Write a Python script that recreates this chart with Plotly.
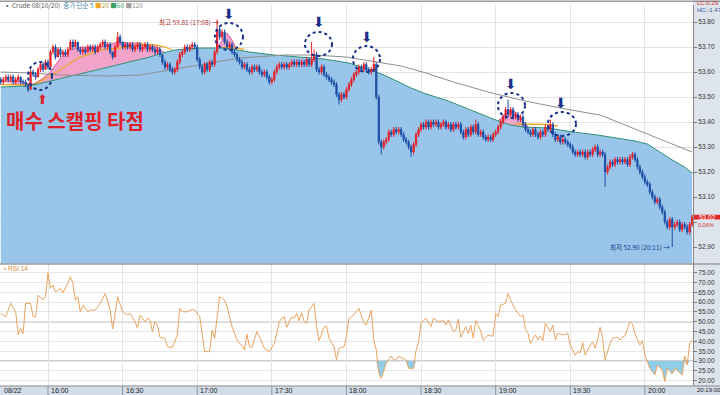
import pandas as pd
import plotly.graph_objects as go

# ---------------- price data (1-minute bars, 15:41 .. 20:19) ----------------
opens = [53.57,53.56,53.57,53.58,53.57,53.58,53.56,53.57,53.58,53.56,
         53.56,53.55,53.53,53.60,53.59,53.58,53.61,53.63,53.61,53.64,
         53.62,53.68,53.70,53.66,53.69,53.67,53.68,53.67,53.69,53.72,
         53.70,53.72,53.69,53.68,53.69,53.68,53.70,53.69,53.70,53.68,
         53.70,53.71,53.72,53.70,53.71,53.68,53.66,53.70,53.74,53.72,
         53.70,53.71,53.70,53.71,53.69,53.70,53.71,53.69,53.70,53.71,
         53.69,53.70,53.69,53.68,53.69,53.67,53.64,53.62,53.63,53.61,
         53.60,53.61,53.64,53.67,53.68,53.70,53.69,53.70,53.71,53.70,
         53.65,53.62,53.60,53.63,53.61,53.64,53.63,53.68,53.77,53.74,
         53.76,53.72,53.70,53.71,53.68,53.67,53.65,53.64,53.62,53.63,
         53.61,53.60,53.62,53.61,53.62,53.60,53.59,53.60,53.58,53.56,
         53.57,53.60,53.62,53.63,53.62,53.63,53.62,53.63,53.64,53.63,
         53.64,53.63,53.64,53.63,53.65,53.63,53.65,53.67,53.61,53.60,
         53.62,53.59,53.58,53.57,53.56,53.55,53.51,53.49,53.51,53.50,
         53.53,53.55,53.57,53.59,53.60,53.62,53.61,53.63,53.61,53.60,
         53.61,53.63,53.50,53.32,53.30,53.32,53.33,53.36,53.35,53.37,
         53.36,53.37,53.35,53.33,53.32,53.30,53.28,53.31,53.35,53.37,
         53.39,53.38,53.40,53.38,53.40,53.39,53.40,53.38,53.39,53.40,
         53.38,53.39,53.37,53.39,53.38,53.39,53.36,53.34,53.37,53.35,
         53.38,53.36,53.39,53.35,53.36,53.34,53.33,53.34,53.33,53.35,
         53.36,53.38,53.40,53.42,53.45,53.43,53.45,53.42,53.43,53.41,
         53.42,53.39,53.37,53.36,53.35,53.37,53.35,53.34,53.36,53.35,
         53.38,53.37,53.39,53.35,53.33,53.34,53.32,53.33,53.32,53.31,
         53.30,53.28,53.27,53.28,53.27,53.28,53.26,53.28,53.27,53.29,
         53.30,53.27,53.28,53.27,53.20,53.22,53.24,53.23,53.25,53.24,
         53.25,53.24,53.25,53.23,53.26,53.27,53.25,53.22,53.20,53.18,
         53.16,53.15,53.12,53.10,53.08,53.09,53.06,53.04,53.00,52.98,
         53.01,52.98,52.99,53.00,52.97,52.99,52.98,52.96,52.99]
highs = [53.58,53.58,53.59,53.59,53.59,53.59,53.58,53.59,53.58,53.57,
         53.57,53.55,53.61,53.61,53.60,53.62,53.64,53.64,53.65,53.65,
         53.69,53.71,53.71,53.70,53.70,53.69,53.69,53.70,53.73,53.73,
         53.73,53.72,53.70,53.70,53.70,53.71,53.71,53.71,53.71,53.71,
         53.72,53.73,53.73,53.72,53.72,53.68,53.71,53.76,53.75,53.72,
         53.72,53.72,53.72,53.72,53.71,53.72,53.72,53.71,53.72,53.72,
         53.71,53.71,53.70,53.70,53.70,53.67,53.65,53.64,53.64,53.62,
         53.62,53.65,53.68,53.69,53.71,53.71,53.71,53.72,53.72,53.71,
         53.66,53.63,53.64,53.64,53.65,53.65,53.69,53.81,53.78,53.77,
         53.77,53.73,53.72,53.72,53.69,53.68,53.66,53.65,53.64,53.64,
         53.62,53.63,53.63,53.63,53.63,53.61,53.61,53.61,53.59,53.58,
         53.61,53.63,53.64,53.64,53.64,53.64,53.64,53.65,53.65,53.65,
         53.65,53.65,53.65,53.66,53.66,53.72,53.69,53.68,53.62,53.63,
         53.63,53.60,53.59,53.58,53.57,53.56,53.52,53.52,53.52,53.54,
         53.56,53.58,53.60,53.61,53.63,53.63,53.64,53.64,53.62,53.62,
         53.66,53.64,53.51,53.33,53.33,53.34,53.37,53.37,53.38,53.38,
         53.38,53.38,53.36,53.34,53.33,53.31,53.32,53.36,53.38,53.40,
         53.40,53.41,53.41,53.41,53.41,53.41,53.41,53.40,53.41,53.41,
         53.40,53.40,53.40,53.40,53.40,53.40,53.37,53.38,53.38,53.39,
         53.39,53.41,53.40,53.37,53.37,53.35,53.35,53.35,53.36,53.37,
         53.39,53.41,53.43,53.46,53.49,53.46,53.46,53.44,53.44,53.43,
         53.43,53.40,53.38,53.37,53.38,53.38,53.36,53.37,53.37,53.39,
         53.39,53.41,53.40,53.36,53.35,53.35,53.34,53.34,53.33,53.32,
         53.31,53.29,53.29,53.29,53.29,53.29,53.29,53.29,53.30,53.31,
         53.31,53.29,53.29,53.28,53.23,53.25,53.25,53.26,53.26,53.26,
         53.26,53.26,53.26,53.27,53.28,53.28,53.26,53.23,53.21,53.19,
         53.17,53.16,53.13,53.11,53.10,53.10,53.07,53.05,53.01,53.02,
         53.02,53.00,53.01,53.01,53.00,53.00,52.99,53.00,53.03]
lows = [53.55,53.55,53.56,53.56,53.56,53.55,53.55,53.56,53.55,53.55,
        53.54,53.52,53.53,53.58,53.57,53.58,53.60,53.60,53.61,53.61,
        53.62,53.67,53.65,53.66,53.66,53.66,53.66,53.66,53.69,53.69,
        53.70,53.68,53.67,53.67,53.67,53.68,53.68,53.68,53.67,53.68,
        53.69,53.70,53.69,53.69,53.67,53.65,53.66,53.70,53.71,53.69,
        53.69,53.69,53.69,53.68,53.68,53.69,53.68,53.68,53.69,53.68,
        53.68,53.68,53.67,53.67,53.66,53.63,53.61,53.61,53.60,53.59,
        53.59,53.60,53.63,53.66,53.67,53.68,53.68,53.69,53.69,53.64,
        53.61,53.59,53.59,53.60,53.60,53.62,53.62,53.67,53.73,53.73,
        53.71,53.69,53.69,53.67,53.66,53.64,53.63,53.61,53.61,53.60,
        53.59,53.59,53.60,53.60,53.59,53.58,53.58,53.57,53.55,53.55,
        53.56,53.59,53.61,53.61,53.61,53.61,53.61,53.62,53.62,53.62,
        53.62,53.62,53.62,53.62,53.62,53.62,53.64,53.60,53.59,53.59,
        53.58,53.57,53.56,53.55,53.54,53.50,53.47,53.48,53.49,53.49,
        53.52,53.54,53.56,53.58,53.59,53.60,53.60,53.60,53.59,53.59,
        53.60,53.49,53.31,53.27,53.29,53.31,53.32,53.34,53.34,53.35,
        53.35,53.34,53.32,53.31,53.29,53.26,53.27,53.30,53.34,53.36,
        53.37,53.37,53.37,53.37,53.38,53.38,53.37,53.37,53.38,53.37,
        53.37,53.36,53.36,53.37,53.37,53.35,53.33,53.33,53.34,53.34,
        53.35,53.35,53.34,53.34,53.33,53.32,53.32,53.32,53.32,53.34,
        53.35,53.37,53.39,53.41,53.42,53.42,53.41,53.41,53.40,53.40,
        53.38,53.36,53.35,53.34,53.34,53.34,53.33,53.33,53.34,53.34,
        53.36,53.36,53.34,53.32,53.32,53.31,53.31,53.31,53.30,53.29,
        53.27,53.26,53.26,53.26,53.26,53.25,53.25,53.26,53.26,53.28,
        53.26,53.26,53.26,53.14,53.19,53.21,53.22,53.22,53.23,53.23,
        53.23,53.23,53.22,53.22,53.25,53.24,53.21,53.19,53.17,53.15,
        53.14,53.11,53.09,53.07,53.07,53.05,53.03,52.99,52.97,52.97,
        52.90,52.97,52.98,52.96,52.96,52.97,52.95,52.95,52.98]
closes = [53.56,53.57,53.58,53.57,53.58,53.56,53.57,53.58,53.56,53.56,
          53.55,53.53,53.60,53.59,53.58,53.61,53.63,53.61,53.64,53.62,
          53.68,53.70,53.66,53.69,53.67,53.68,53.67,53.69,53.72,53.70,
          53.72,53.69,53.68,53.69,53.68,53.70,53.69,53.70,53.68,53.70,
          53.71,53.72,53.70,53.71,53.68,53.66,53.70,53.74,53.72,53.70,
          53.71,53.70,53.71,53.69,53.70,53.71,53.69,53.70,53.71,53.69,
          53.70,53.69,53.68,53.69,53.67,53.64,53.62,53.63,53.61,53.60,
          53.61,53.64,53.67,53.68,53.70,53.69,53.70,53.71,53.70,53.65,
          53.62,53.60,53.63,53.61,53.64,53.63,53.68,53.77,53.74,53.76,
          53.72,53.70,53.71,53.68,53.67,53.65,53.64,53.62,53.63,53.61,
          53.60,53.62,53.61,53.62,53.60,53.59,53.60,53.58,53.56,53.57,
          53.60,53.62,53.63,53.62,53.63,53.62,53.63,53.64,53.63,53.64,
          53.63,53.64,53.63,53.65,53.63,53.65,53.67,53.61,53.60,53.62,
          53.59,53.58,53.57,53.56,53.55,53.51,53.49,53.51,53.50,53.53,
          53.55,53.57,53.59,53.60,53.62,53.61,53.63,53.61,53.60,53.61,
          53.63,53.50,53.32,53.30,53.32,53.33,53.36,53.35,53.37,53.36,
          53.37,53.35,53.33,53.32,53.30,53.28,53.31,53.35,53.37,53.39,
          53.38,53.40,53.38,53.40,53.39,53.40,53.38,53.39,53.40,53.38,
          53.39,53.37,53.39,53.38,53.39,53.36,53.34,53.37,53.35,53.38,
          53.36,53.39,53.35,53.36,53.34,53.33,53.34,53.33,53.35,53.36,
          53.38,53.40,53.42,53.45,53.43,53.45,53.42,53.43,53.41,53.42,
          53.39,53.37,53.36,53.35,53.37,53.35,53.34,53.36,53.35,53.38,
          53.37,53.39,53.35,53.33,53.34,53.32,53.33,53.32,53.31,53.30,
          53.28,53.27,53.28,53.27,53.28,53.26,53.28,53.27,53.29,53.30,
          53.27,53.28,53.27,53.20,53.22,53.24,53.23,53.25,53.24,53.25,
          53.24,53.25,53.23,53.26,53.27,53.25,53.22,53.20,53.18,53.16,
          53.15,53.12,53.10,53.08,53.09,53.06,53.04,53.00,52.98,53.01,
          52.98,52.99,53.00,52.97,52.99,52.98,52.96,52.99,53.02]

# ---------------- moving averages (bar number -> value) ----------------
ma60_bar = [0,10,15,20,30,40,50,60,65,70,80,90,100,110,120,130,140,150,155,160,165,
            170,180,190,200,205,210,220,230,240,250,255,260,265,270,275,278]
ma60_val = [53.540,53.544,53.552,53.564,53.588,53.612,53.636,53.660,53.676,53.688,53.696,
            53.696,53.680,53.668,53.660,53.652,53.636,53.604,53.584,53.560,53.536,
            53.516,53.484,53.444,53.404,53.388,53.380,53.376,53.360,53.348,53.332,
            53.324,53.312,53.280,53.248,53.220,53.196]
ma120_bar = [0,12,24,36,44,56,72,84,96,114,126,139,152,161,171,182,196,209,227,241,254,265,278]
ma120_val = [53.600,53.596,53.588,53.584,53.584,53.588,53.616,53.636,53.656,53.668,53.668,
             53.660,53.640,53.624,53.596,53.560,53.520,53.488,53.452,53.428,53.376,53.332,53.280]
ma20_bar = [0,8,13,22,31,40,51,56,62,66,69,70,86,90,95,98,99,207,213,220,224]
ma20_val = [53.550,53.550,53.548,53.596,53.656,53.688,53.700,53.712,53.708,53.700,53.688,None,
            53.692,53.698,53.696,53.690,None,53.392,53.392,53.390,53.384]
ma5_a_bar = [0,4,8,11,13,16,20,24,28,32,40,47,51,56,58,63,65,66]
ma5_a_val = [53.562,53.566,53.564,53.554,53.552,53.568,53.600,53.656,53.688,53.700,53.700,
             53.720,53.716,53.716,53.708,53.700,53.684,53.676]
ma5_b_bar = [87,89,91,93,95]
ma5_b_val = [53.696,53.728,53.756,53.728,53.688]
ma5_c_bar = [200,202,205,207,209,212]
ma5_c_val = [53.404,53.424,53.448,53.440,53.416,53.380]

# ---------------- RSI 14 ----------------
rsi_bar = [0,2,4,6,7,8,9,10,12,13,14,15,17,18,19,20,21,22,24,25,27,28,29,30,31,32,33,35,36,38,
           40,42,44,45,47,49,51,52,54,55,56,58,59,60,61,62,63,64,66,67,69,71,72,73,75,77,78,80,
           82,84,85,86,88,90,91,93,95,96,97,98,99,100,101,103,104,105,106,108,109,110,111,112,
           113,114,115,116,117,118,119,120,121,122,123,124,126,127,128,130,131,132,134,135,136,
           138,139,140,142,144,146,147,149,150,151,152,153,155,156,157,158,159,160,162,163,164,
           166,167,168,169,171,173,174,176,178,179,180,182,183,184,185,187,188,189,190,191,193,
           194,196,197,198,199,200,201,203,204,205,207,209,210,211,212,213,214,215,216,217,218,
           219,221,222,223,224,225,226,228,229,231,232,233,234,235,237,238,239,240,241,242,243,
           245,246,248,249,250,251,253,254,255,257,258,259,260,261,263,264,266,267,268,270,271,
           272,274,275,276,277,278]
rsi_val = [54.3,52.6,59.4,55.1,43.3,46.7,44.1,59.4,59.4,52.6,52.6,63.6,61.1,62.8,75.0,67.0,68.7,
           65.3,67.0,64.8,69.6,73.0,69.6,61.1,62.8,55.1,58.5,55.1,56.0,56.0,59.4,64.5,56.0,46.3,
           62.8,55.1,53.5,54.3,50.1,46.7,53.5,50.1,51.8,51.0,45.0,50.1,48.4,42.1,41.6,37.3,37.0,
           43.3,56.9,55.1,55.1,56.4,56.0,52.6,34.8,34.8,45.8,41.6,62.8,61.1,57.7,47.5,40.7,39.0,
           38.1,35.6,43.8,37.3,37.0,45.0,42.4,39.8,36.5,34.8,37.3,39.0,44.0,50.1,51.8,52.6,47.2,
           50.1,52.6,51.8,54.3,50.5,54.6,50.1,49.3,56.0,59.4,47.5,40.4,47.5,47.8,41.6,37.3,30.6,
           36.5,37.3,42.1,51.8,53.5,56.9,49.3,48.4,56.0,40.7,35.6,23.8,21.2,28.9,30.6,32.6,30.6,
           30.5,32.3,31.4,30.6,26.3,26.3,35.6,39.8,49.6,51.8,47.5,51.8,50.1,50.6,48.4,51.0,45.0,
           45.8,51.3,42.1,47.5,44.1,48.4,41.6,50.6,45.4,40.4,43.3,42.8,42.8,54.3,52.6,58.5,59.4,
           64.5,61.1,56.0,52.6,53.5,46.1,44.1,39.0,41.6,43.3,40.7,42.8,40.4,49.3,45.0,48.4,40.7,
           44.1,43.8,43.3,44.1,38.1,33.0,34.8,34.3,39.4,33.0,38.1,39.8,36.5,40.7,47.2,41.6,30.6,
           39.0,41.6,42.1,40.7,42.4,42.8,50.1,48.9,44.1,38.1,40.4,33.0,29.6,26.3,22.9,28.0,25.4,
           19.5,26.3,23.4,26.3,25.4,22.9,32.6,28.0,39.0,40.7]

price_ticks = [52.90,53.00,53.10,53.20,53.30,53.40,53.50,53.60,53.70,53.80]
rsi_ticks = [20,25,30,35,40,45,50,55,60,65,70,75]
time_labels = ["16:00","16:30","17:00","17:30","18:00","18:30","19:00","19:30","20:00"]

# ---------------- helpers / styles ----------------
DAY = "2019-08-22"
START = pd.Timestamp(DAY + " 15:41")
def tm(i):
    return START + pd.Timedelta(minutes=i)

times = [tm(i) for i in range(len(closes))]
RED = "#e4232a"
BLUE = "#1d4fa6"
BLUEFILL = "#98c5e9"
TEAL = "#2f8f74"
PINK = "#f2a3c9"
PINKLINE = "#d8609e"
ORANGE = "#f0a82a"
GRAY = "#8e8e8e"
RSI_C = "#e8a462"
CYAN = "#8fcde6"
NAVY = "#1b2f86"
TXT = "Noto Sans CJK KR"
NUM = "Liberation Sans"
last = closes[-1]

fig = go.Figure()

# pink cloud between MA5 and MA60
for bars, vals in [(ma5_a_bar, ma5_a_val), (ma5_b_bar, ma5_b_val), (ma5_c_bar, ma5_c_val)]:
    inner = [(b, v) for b, v in zip(ma60_bar, ma60_val) if bars[0] < b < bars[-1]]
    lx = [tm(bars[0])] + [tm(b) for b, _ in inner] + [tm(bars[-1])]
    ly = [vals[0]] + [v for _, v in inner] + [vals[-1]]
    fig.add_trace(go.Scatter(x=lx, y=ly, mode="lines", line=dict(width=0, color=PINK),
                             hoverinfo="skip", showlegend=False))
    fig.add_trace(go.Scatter(x=[tm(b) for b in bars], y=vals, mode="lines",
                             line=dict(color=PINKLINE, width=1), fill="tonexty",
                             fillcolor=PINK, hoverinfo="skip", showlegend=False))

# MA20
fig.add_trace(go.Scatter(x=[tm(b) for b in ma20_bar], y=ma20_val, mode="lines",
                         line=dict(color=ORANGE, width=1.3), connectgaps=False,
                         showlegend=False))
# MA60 with blue area below
fig.add_trace(go.Scatter(x=[tm(b) for b in ma60_bar], y=ma60_val, mode="lines",
                         line=dict(color=TEAL, width=1), fill="tozeroy",
                         fillcolor=BLUEFILL, showlegend=False))
# MA120
fig.add_trace(go.Scatter(x=[tm(b) for b in ma120_bar], y=ma120_val, mode="lines",
                         line=dict(color=GRAY, width=1), showlegend=False))

# candles on an overlaid axis (drawn above the fills)
fig.add_trace(go.Candlestick(x=times, open=opens, high=highs, low=lows, close=closes,
                             xaxis="x", yaxis="y3", whiskerwidth=0,
                             increasing=dict(line=dict(color=RED, width=1), fillcolor=RED),
                             decreasing=dict(line=dict(color=BLUE, width=1), fillcolor=BLUE),
                             showlegend=False))

# RSI panel
rx = [tm(b) for b in rsi_bar]
fig.add_trace(go.Scatter(x=rx, y=[30] * len(rx), xaxis="x2", yaxis="y2", mode="lines",
                         line=dict(width=0), hoverinfo="skip", showlegend=False))
fig.add_trace(go.Scatter(x=rx, y=[min(v, 30) for v in rsi_val], xaxis="x2", yaxis="y2",
                         mode="lines", line=dict(width=0), fill="tonexty", fillcolor=CYAN,
                         hoverinfo="skip", showlegend=False))
fig.add_trace(go.Scatter(x=rx, y=rsi_val, xaxis="x2", yaxis="y2", mode="lines",
                         line=dict(color=RSI_C, width=1), showlegend=False))

XR = [START - pd.Timedelta(seconds=18), START + pd.Timedelta(minutes=278, seconds=21)]
XD = [0, 0.9625]
common_x = dict(range=XR, type="date", showgrid=True, gridcolor="#e3e3e3", gridwidth=1,
                dtick=1800000, tick0=DAY + " 16:00", showticklabels=False, ticks="",
                zeroline=False, showline=False, fixedrange=True)
PR = [52.834, 53.868]
tickfont = dict(family=NUM, size=6.5, color="#333")
# the 53.00 label sits under the current-price box
price_text = ["" if abs(v - 53.00) < 1e-9 else f"{v:.2f}" for v in price_ticks]

fig.update_layout(
    width=720, height=395, margin=dict(l=0, r=0, t=0, b=0),
    paper_bgcolor="white", plot_bgcolor="rgba(0,0,0,0)", showlegend=False,
    xaxis=dict(domain=XD, anchor="y", rangeslider=dict(visible=False), **common_x),
    xaxis2=dict(domain=XD, anchor="y2", matches="x", **common_x),
    yaxis=dict(domain=[0.3329, 0.9873], range=PR, side="right", tickvals=price_ticks,
               ticktext=price_text, showgrid=True,
               gridcolor="#e3e3e3", ticks="outside", ticklen=3, tickcolor="#777",
               showline=True, linecolor="#8a8a8a", tickfont=tickfont, zeroline=False,
               fixedrange=True),
    yaxis3=dict(overlaying="y", anchor="x", range=PR, visible=False, side="right",
                fixedrange=True),
    yaxis2=dict(domain=[0.0228, 0.3304], range=[17.31, 79.18], side="right",
                tickvals=rsi_ticks, ticktext=[f"{v:.2f}" for v in rsi_ticks],
                showgrid=True, gridcolor="#e6e6e6", ticks="outside", ticklen=3,
                tickcolor="#777", showline=True, linecolor="#8a8a8a", tickfont=tickfont,
                zeroline=False, fixedrange=True),
)

shapes = []
shapes.append(dict(type="rect", xref="paper", yref="paper", x0=0.9625, x1=1, y0=0, y1=1,
                   fillcolor="#dde4ec", line=dict(width=0), layer="below"))
shapes.append(dict(type="rect", xref="paper", yref="paper", x0=0, x1=1, y0=0, y1=0.0228,
                   fillcolor="#d3dde8", line=dict(width=0), layer="below"))
shapes.append(dict(type="line", xref="paper", yref="paper", x0=0, x1=1, y0=0.0228, y1=0.0228,
                   line=dict(color="#8a8a8a", width=1)))
shapes.append(dict(type="line", xref="paper", yref="paper", x0=0, x1=1, y0=0.3316, y1=0.3316,
                   line=dict(color="#9a9a9a", width=1.5)))
shapes.append(dict(type="line", xref="paper", yref="paper", x0=0, x1=1, y0=0.997, y1=0.997,
                   line=dict(color="#9a9a9a", width=1.5)))
for lvl, col in [(70, "#9c9c9c"), (50, "#b4b4b4"), (30, "#9c9c9c")]:
    shapes.append(dict(type="line", xref="x2 domain", yref="y2", x0=0, x1=1, y0=lvl, y1=lvl,
                       line=dict(color=col, width=1.2), layer="below"))
for lab in time_labels:
    tt = pd.Timestamp(DAY + " " + lab)
    shapes.append(dict(type="line", xref="x", yref="paper", x0=tt, x1=tt, y0=0, y1=0.0228,
                       line=dict(color="#8896a6", width=1)))
circles = [(11, 20.6, 53.528, 53.640), (86.1, 97.4, 53.688, 53.796),
           (122.3, 133.2, 53.664, 53.760), (141.6, 152.5, 53.600, 53.704),
           (199.9, 210.8, 53.416, 53.516), (220.0, 231.3, 53.344, 53.440)]
for a, b, lo, hi in circles:
    shapes.append(dict(type="circle", xref="x", yref="y", x0=tm(a), x1=tm(b), y0=lo, y1=hi,
                       line=dict(color=NAVY, width=2, dash="dot")))
shapes.append(dict(type="rect", xref="paper", yref="y", x0=0.9639, x1=1, y0=last - 0.0095,
                   y1=last + 0.0095, fillcolor="#e12b2b", line=dict(width=0)))
fig.update_layout(shapes=shapes)

ann = []
def A(**kw):
    d = dict(showarrow=False)
    d.update(kw)
    ann.append(d)

A(x=0.003, y=0.988, xref="paper", yref="paper", xanchor="left", yanchor="middle",
  text=('<span style="color:#555">▪ Crude 08(10/20)</span>  '
        '<span style="color:#3a86a8">종가 단순 5</span> '
        '<span style="color:#f0a82a">■</span><span style="color:#b0a040">20</span> '
        '<span style="color:#3aa060">■</span><span style="color:#50a070">60</span> '
        '<span style="color:#a0a0a0">■</span><span style="color:#909090">120</span>'),
  font=dict(family=TXT, size=6.5, color="#555"))
A(x=0.965, y=0.992, xref="paper", yref="paper", xanchor="left", yanchor="middle",
  text="LC:0.29", font=dict(family=NUM, size=6, color="#d03030"))
A(x=0.965, y=0.975, xref="paper", yref="paper", xanchor="left", yanchor="middle",
  text="HC:-1.47", font=dict(family=NUM, size=6, color="#3050a0"))
A(x=0.003, y=0.319, xref="paper", yref="paper", xanchor="left", yanchor="middle",
  text="▪ RSI 14", font=dict(family=NUM, size=6.5, color="#d88a40"))
A(x=0.982, y=last, xref="paper", yref="y", xanchor="center", yanchor="middle",
  text=f"{last:.2f}", font=dict(family=NUM, size=6.5, color="white"))
A(x=0.966, y=last - 0.0095, xref="paper", yref="y", xanchor="left", yanchor="top",
  yshift=-1, text="0.06%", font=dict(family=NUM, size=5.5, color="#d03030"))
A(x=tm(88.6), y=53.80, xref="x", yref="y", xanchor="right", yanchor="middle",
  text="최고 53.81 (17:08) →", font=dict(family=TXT, size=6.5, color="#b02a2a"))
A(x=tm(270), y=52.90, xref="x", yref="y", xanchor="right", yanchor="middle",
  text="최저 52.90 (20:11) →", font=dict(family=TXT, size=6.5, color="#1f3a8e"))
A(x=tm(29.9), y=53.408, xref="x", yref="y", xanchor="center", yanchor="middle",
  text="<b>매수 스캘핑 타점</b>", font=dict(family=TXT, size=20, color="#e0202a"))
A(x=tm(16.6), y=53.492, xref="x", yref="y", text="⬆",
  font=dict(family="DejaVu Sans", size=13, color="#e0202a"))
for bi, pv in [(91.8, 53.832), (128, 53.80), (147.3, 53.74), (205.2, 53.552), (225.3, 53.476)]:
    A(x=tm(bi), y=pv, xref="x", yref="y", text="⬇",
      font=dict(family="DejaVu Sans", size=14, color=NAVY))
A(x=0.003, y=0.0114, xref="paper", yref="paper", xanchor="left", yanchor="middle",
  text="08/22", font=dict(family=NUM, size=7, color="#222"))
for lab in time_labels:
    A(x=pd.Timestamp(DAY + " " + lab), y=0.0114, xref="x", yref="paper", xanchor="left",
      yanchor="middle", xshift=1, text=lab, font=dict(family=NUM, size=7, color="#222"))
A(x=0.965, y=0.0114, xref="paper", yref="paper", xanchor="left", yanchor="middle",
  text="20:19:00", font=dict(family=NUM, size=6, color="#222"))
fig.update_layout(annotations=ann)

fig.write_html("out.html",
               config={"displayModeBar": False},
               post_script="document.body.style.margin='0px';"
                           "document.body.style.overflow='hidden';")
